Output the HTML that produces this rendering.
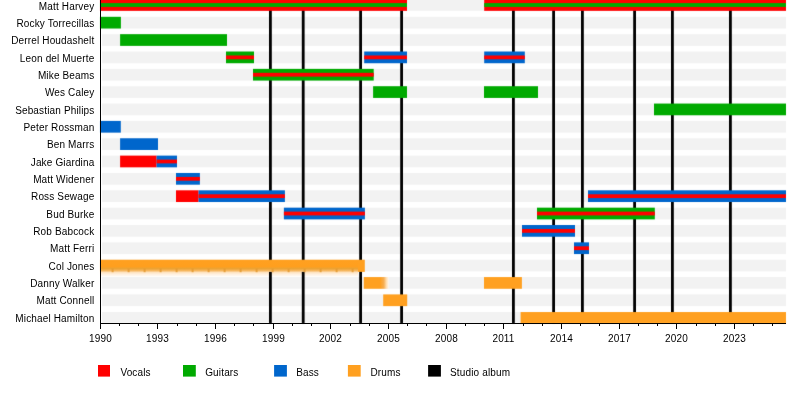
<!DOCTYPE html>
<html><head><meta charset="utf-8"><title>Timeline</title>
<style>
html,body{margin:0;padding:0;background:#fff;width:800px;height:412px;overflow:hidden}
svg{display:block}
.tx{will-change:transform}
.t{font-family:"Liberation Sans",Arial,sans-serif;font-size:10px;fill:#000;letter-spacing:0.15px}
</style></head><body>
<svg width="800" height="412" viewBox="0 0 800 412">
<defs><filter id="bl" x="0" y="0" width="800" height="412" filterUnits="userSpaceOnUse" color-interpolation-filters="sRGB"><feConvolveMatrix order="3" kernelMatrix="0.01 0.06 0.01 0.06 0.72 0.06 0.01 0.06 0.01" divisor="1" edgeMode="duplicate" preserveAlpha="true"/></filter>

<linearGradient id="colj" x1="0" y1="0" x2="0" y2="1">
<stop offset="0" stop-color="#ffa020"/>
<stop offset="0.56" stop-color="#ff9f1e"/>
<stop offset="0.72" stop-color="#eca232"/>
<stop offset="0.86" stop-color="#f4b050"/>
<stop offset="1" stop-color="#fbcd90"/>
</linearGradient>
<linearGradient id="colp" x1="0" y1="0" x2="0" y2="1">
<stop offset="0" stop-color="#fee0b8"/>
<stop offset="0.5" stop-color="#fff0e0"/>
<stop offset="1" stop-color="#fffcf8"/>
</linearGradient>
<linearGradient id="danw" x1="0" y1="0" x2="1" y2="0">
<stop offset="0" stop-color="#ffa020"/>
<stop offset="0.66" stop-color="#ffa020"/>
<stop offset="0.80" stop-color="#f6ae52"/>
<stop offset="0.90" stop-color="#ffdcae"/>
<stop offset="1" stop-color="#fff8f0"/>
</linearGradient>
</defs>
<g filter="url(#bl)">
<rect x="0" y="0" width="800" height="412" fill="#fff"/>
<rect x="102" y="-0.85" width="684" height="11.7" fill="#f2f2f2"/>
<rect x="102" y="16.82" width="684" height="11.7" fill="#f2f2f2"/>
<rect x="102" y="34.17" width="684" height="11.7" fill="#f2f2f2"/>
<rect x="102" y="51.52" width="684" height="11.7" fill="#f2f2f2"/>
<rect x="102" y="68.87" width="684" height="11.7" fill="#f2f2f2"/>
<rect x="102" y="86.22" width="684" height="11.7" fill="#f2f2f2"/>
<rect x="102" y="103.57" width="684" height="11.7" fill="#f2f2f2"/>
<rect x="102" y="120.92" width="684" height="11.7" fill="#f2f2f2"/>
<rect x="102" y="138.27" width="684" height="11.7" fill="#f2f2f2"/>
<rect x="102" y="155.62" width="684" height="11.7" fill="#f2f2f2"/>
<rect x="102" y="172.97" width="684" height="11.7" fill="#f2f2f2"/>
<rect x="102" y="190.32" width="684" height="11.7" fill="#f2f2f2"/>
<rect x="102" y="207.67" width="684" height="11.7" fill="#f2f2f2"/>
<rect x="102" y="225.02" width="684" height="11.7" fill="#f2f2f2"/>
<rect x="102" y="242.37" width="684" height="11.7" fill="#f2f2f2"/>
<rect x="102" y="259.72" width="684" height="11.7" fill="#f2f2f2"/>
<rect x="102" y="277.07" width="684" height="11.7" fill="#f2f2f2"/>
<rect x="102" y="294.42" width="684" height="11.7" fill="#f2f2f2"/>
<rect x="102" y="312.05" width="684" height="11.7" fill="#f2f2f2"/>
<rect x="100" y="271.9" width="258" height="4.7" fill="url(#colp)"/>
<rect x="269" y="0" width="2.8" height="323.5" fill="#000"/>
<rect x="301.8" y="0" width="2.8" height="323.5" fill="#000"/>
<rect x="359.2" y="0" width="2.8" height="323.5" fill="#000"/>
<rect x="400.2" y="0" width="2.8" height="323.5" fill="#000"/>
<rect x="512" y="0" width="2.8" height="323.5" fill="#000"/>
<rect x="552.2" y="0" width="2.8" height="323.5" fill="#000"/>
<rect x="581" y="0" width="2.8" height="323.5" fill="#000"/>
<rect x="633.2" y="0" width="2.8" height="323.5" fill="#000"/>
<rect x="671" y="0" width="2.8" height="323.5" fill="#000"/>
<rect x="729" y="0" width="2.8" height="323.5" fill="#000"/>
<rect x="100" y="-0.85" width="307" height="11.7" fill="#ff0000"/>
<rect x="100" y="3.1" width="307" height="3.8" fill="#00aa00"/>
<rect x="484.2" y="-0.85" width="301.8" height="11.7" fill="#ff0000"/>
<rect x="484.2" y="3.1" width="301.8" height="3.8" fill="#00aa00"/>
<rect x="100" y="16.82" width="20.9" height="11.7" fill="#00aa00"/>
<rect x="120.1" y="34.17" width="106.9" height="11.7" fill="#00aa00"/>
<rect x="226" y="51.52" width="28" height="11.7" fill="#00aa00"/>
<rect x="226" y="55.47" width="28" height="3.8" fill="#ff0000"/>
<rect x="364.2" y="51.52" width="42.8" height="11.7" fill="#0066cc"/>
<rect x="364.2" y="55.47" width="42.8" height="3.8" fill="#ff0000"/>
<rect x="484.2" y="51.52" width="40.6" height="11.7" fill="#0066cc"/>
<rect x="484.2" y="55.47" width="40.6" height="3.8" fill="#ff0000"/>
<rect x="253" y="68.87" width="120.7" height="11.7" fill="#00aa00"/>
<rect x="253" y="72.82" width="120.7" height="3.8" fill="#ff0000"/>
<rect x="373.1" y="86.22" width="33.9" height="11.7" fill="#00aa00"/>
<rect x="484" y="86.22" width="54" height="11.7" fill="#00aa00"/>
<rect x="654" y="103.57" width="132" height="11.7" fill="#00aa00"/>
<rect x="100" y="120.92" width="20.8" height="11.7" fill="#0066cc"/>
<rect x="120.1" y="138.27" width="37.9" height="11.7" fill="#0066cc"/>
<rect x="120.1" y="155.62" width="36.5" height="11.7" fill="#ff0000"/>
<rect x="156.6" y="155.62" width="20.4" height="11.7" fill="#0066cc"/>
<rect x="156.6" y="159.57" width="20.4" height="3.8" fill="#ff0000"/>
<rect x="176" y="172.97" width="23.9" height="11.7" fill="#0066cc"/>
<rect x="176" y="176.92" width="23.9" height="3.8" fill="#ff0000"/>
<rect x="176" y="190.32" width="22.6" height="11.7" fill="#ff0000"/>
<rect x="198.6" y="190.32" width="86.3" height="11.7" fill="#0066cc"/>
<rect x="198.6" y="194.27" width="86.3" height="3.8" fill="#ff0000"/>
<rect x="588" y="190.32" width="198" height="11.7" fill="#0066cc"/>
<rect x="588" y="194.27" width="198" height="3.8" fill="#ff0000"/>
<rect x="283.9" y="207.67" width="81" height="11.7" fill="#0066cc"/>
<rect x="283.9" y="211.62" width="81" height="3.8" fill="#ff0000"/>
<rect x="537" y="207.67" width="117.8" height="11.7" fill="#00aa00"/>
<rect x="537" y="211.62" width="117.8" height="3.8" fill="#ff0000"/>
<rect x="522" y="225.02" width="53" height="11.7" fill="#0066cc"/>
<rect x="522" y="228.97" width="53" height="3.8" fill="#ff0000"/>
<rect x="574" y="242.37" width="15" height="11.7" fill="#0066cc"/>
<rect x="574" y="246.32" width="15" height="3.8" fill="#ff0000"/>
<rect x="484" y="277.07" width="37.9" height="11.7" fill="#ffa020"/>
<rect x="383.2" y="294.42" width="24" height="11.7" fill="#ffa020"/>
<rect x="520.6" y="312.05" width="265.4" height="11.7" fill="#ffa020"/>
<rect x="100" y="259.72" width="258" height="12.18" fill="url(#colj)"/>
<rect x="358" y="259.72" width="6.8" height="12.18" fill="#ffa020"/>
<rect x="111.6" y="268.6" width="2" height="3.6" fill="#e49a30" fill-opacity="0.85"/>
<rect x="127.6" y="268.6" width="2" height="3.6" fill="#e49a30" fill-opacity="0.85"/>
<rect x="143.6" y="268.6" width="2" height="3.6" fill="#e49a30" fill-opacity="0.85"/>
<rect x="159.6" y="268.6" width="2" height="3.6" fill="#e49a30" fill-opacity="0.85"/>
<rect x="175.6" y="268.6" width="2" height="3.6" fill="#e49a30" fill-opacity="0.85"/>
<rect x="191.6" y="268.6" width="2" height="3.6" fill="#e49a30" fill-opacity="0.85"/>
<rect x="207.6" y="268.6" width="2" height="3.6" fill="#e49a30" fill-opacity="0.85"/>
<rect x="223.6" y="268.6" width="2" height="3.6" fill="#e49a30" fill-opacity="0.85"/>
<rect x="239.6" y="268.6" width="2" height="3.6" fill="#e49a30" fill-opacity="0.85"/>
<rect x="255.6" y="268.6" width="2" height="3.6" fill="#e49a30" fill-opacity="0.85"/>
<rect x="271.6" y="268.6" width="2" height="3.6" fill="#e49a30" fill-opacity="0.85"/>
<rect x="287.6" y="268.6" width="2" height="3.6" fill="#e49a30" fill-opacity="0.85"/>
<rect x="303.6" y="268.6" width="2" height="3.6" fill="#e49a30" fill-opacity="0.85"/>
<rect x="319.6" y="268.6" width="2" height="3.6" fill="#e49a30" fill-opacity="0.85"/>
<rect x="335.6" y="268.6" width="2" height="3.6" fill="#e49a30" fill-opacity="0.85"/>
<rect x="351.6" y="268.6" width="2" height="3.6" fill="#e49a30" fill-opacity="0.85"/>
<rect x="363.8" y="277.07" width="25" height="11.7" fill="url(#danw)"/>
</g>
<rect x="100" y="0" width="1" height="329" fill="#000"/>
<rect x="100" y="323" width="686" height="1" fill="#000"/>
<rect x="100" y="323" width="1" height="6" fill="#000"/>
<rect x="119" y="323" width="1" height="3" fill="#000"/>
<rect x="138" y="323" width="1" height="3" fill="#000"/>
<rect x="157" y="323" width="1" height="6" fill="#000"/>
<rect x="177" y="323" width="1" height="3" fill="#000"/>
<rect x="196" y="323" width="1" height="3" fill="#000"/>
<rect x="215" y="323" width="1" height="6" fill="#000"/>
<rect x="234" y="323" width="1" height="3" fill="#000"/>
<rect x="253" y="323" width="1" height="3" fill="#000"/>
<rect x="273" y="323" width="1" height="6" fill="#000"/>
<rect x="292" y="323" width="1" height="3" fill="#000"/>
<rect x="311" y="323" width="1" height="3" fill="#000"/>
<rect x="330" y="323" width="1" height="6" fill="#000"/>
<rect x="350" y="323" width="1" height="3" fill="#000"/>
<rect x="369" y="323" width="1" height="3" fill="#000"/>
<rect x="388" y="323" width="1" height="6" fill="#000"/>
<rect x="407" y="323" width="1" height="3" fill="#000"/>
<rect x="426" y="323" width="1" height="3" fill="#000"/>
<rect x="446" y="323" width="1" height="6" fill="#000"/>
<rect x="465" y="323" width="1" height="3" fill="#000"/>
<rect x="484" y="323" width="1" height="3" fill="#000"/>
<rect x="503" y="323" width="1" height="6" fill="#000"/>
<rect x="523" y="323" width="1" height="3" fill="#000"/>
<rect x="542" y="323" width="1" height="3" fill="#000"/>
<rect x="561" y="323" width="1" height="6" fill="#000"/>
<rect x="580" y="323" width="1" height="3" fill="#000"/>
<rect x="599" y="323" width="1" height="3" fill="#000"/>
<rect x="619" y="323" width="1" height="6" fill="#000"/>
<rect x="638" y="323" width="1" height="3" fill="#000"/>
<rect x="657" y="323" width="1" height="3" fill="#000"/>
<rect x="676" y="323" width="1" height="6" fill="#000"/>
<rect x="696" y="323" width="1" height="3" fill="#000"/>
<rect x="715" y="323" width="1" height="3" fill="#000"/>
<rect x="734" y="323" width="1" height="6" fill="#000"/>
<rect x="753" y="323" width="1" height="3" fill="#000"/>
<rect x="772" y="323" width="1" height="3" fill="#000"/>
<rect x="98" y="365" width="12" height="11.6" fill="#ff0000"/>
<rect x="183" y="365" width="12.8" height="11.6" fill="#00aa00"/>
<rect x="274.1" y="365" width="12.8" height="11.6" fill="#0066cc"/>
<rect x="347.9" y="365" width="12.8" height="11.6" fill="#ffa020"/>
<rect x="428.1" y="365" width="12.8" height="11.6" fill="#000"/>
<g class="tx">
<text x="100.5" y="342" text-anchor="middle" class="t">1990</text>
<text x="157.5" y="342" text-anchor="middle" class="t">1993</text>
<text x="215.5" y="342" text-anchor="middle" class="t">1996</text>
<text x="273.5" y="342" text-anchor="middle" class="t">1999</text>
<text x="330.5" y="342" text-anchor="middle" class="t">2002</text>
<text x="388.5" y="342" text-anchor="middle" class="t">2005</text>
<text x="446.5" y="342" text-anchor="middle" class="t">2008</text>
<text x="503.5" y="342" text-anchor="middle" class="t">2011</text>
<text x="561.5" y="342" text-anchor="middle" class="t">2014</text>
<text x="619.5" y="342" text-anchor="middle" class="t">2017</text>
<text x="676.5" y="342" text-anchor="middle" class="t">2020</text>
<text x="734.5" y="342" text-anchor="middle" class="t">2023</text>
<text x="94.4" y="9.84" text-anchor="end" class="t">Matt Harvey</text>
<text x="94.4" y="27.16" text-anchor="end" class="t">Rocky Torrecillas</text>
<text x="94.4" y="44.47" text-anchor="end" class="t">Derrel Houdashelt</text>
<text x="94.4" y="61.79" text-anchor="end" class="t">Leon del Muerte</text>
<text x="94.4" y="79.11" text-anchor="end" class="t">Mike Beams</text>
<text x="94.4" y="96.43" text-anchor="end" class="t">Wes Caley</text>
<text x="94.4" y="113.74" text-anchor="end" class="t">Sebastian Philips</text>
<text x="94.4" y="131.06" text-anchor="end" class="t">Peter Rossman</text>
<text x="94.4" y="148.38" text-anchor="end" class="t">Ben Marrs</text>
<text x="94.4" y="165.69" text-anchor="end" class="t">Jake Giardina</text>
<text x="94.4" y="183.01" text-anchor="end" class="t">Matt Widener</text>
<text x="94.4" y="200.33" text-anchor="end" class="t">Ross Sewage</text>
<text x="94.4" y="217.64" text-anchor="end" class="t">Bud Burke</text>
<text x="94.4" y="234.96" text-anchor="end" class="t">Rob Babcock</text>
<text x="94.4" y="252.28" text-anchor="end" class="t">Matt Ferri</text>
<text x="94.4" y="269.59" text-anchor="end" class="t">Col Jones</text>
<text x="94.4" y="286.91" text-anchor="end" class="t">Danny Walker</text>
<text x="94.4" y="304.23" text-anchor="end" class="t">Matt Connell</text>
<text x="94.4" y="321.55" text-anchor="end" class="t">Michael Hamilton</text>
<text x="120.4" y="375.8" class="t">Vocals</text>
<text x="205.2" y="375.8" class="t">Guitars</text>
<text x="296.2" y="375.8" class="t">Bass</text>
<text x="370.4" y="375.8" class="t">Drums</text>
<text x="450" y="375.8" class="t">Studio album</text>
</g></svg>
</body></html>
